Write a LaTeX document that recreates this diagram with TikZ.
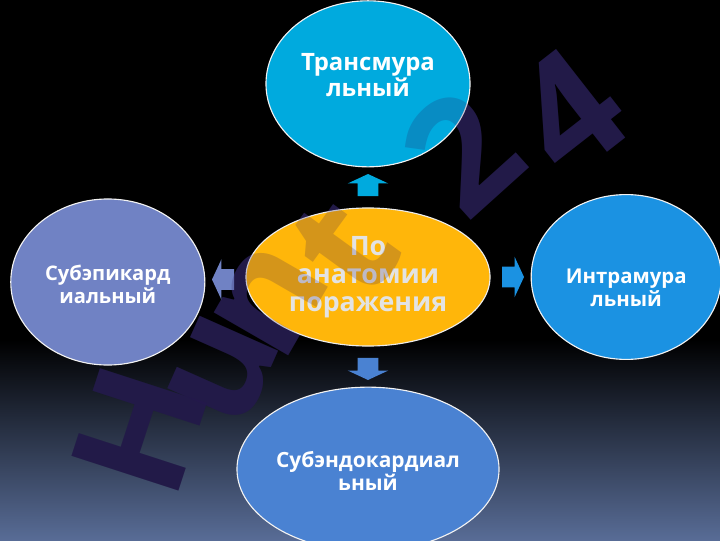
\documentclass[tikz,border=0pt]{standalone}
\usepackage{fontspec}
\setmainfont{Open Sans}
\usetikzlibrary{positioning}
\usetikzlibrary{shapes.geometric}
\usetikzlibrary{shapes.arrows}
\usetikzlibrary{calc}

\definecolor{goldc}{RGB}{255,182,10}
\definecolor{transc}{RGB}{0,170,222}
\definecolor{epic}{RGB}{112,130,196}
\definecolor{intrac}{RGB}{27,146,226}
\definecolor{endoc}{RGB}{74,130,210}
\definecolor{floorc}{RGB}{88,108,150}
\definecolor{wmc}{RGB}{33,28,68}
\definecolor{wmtint}{RGB}{40,20,90}

\begin{document}
\begin{tikzpicture}[
    x=0.025cm, y=0.025cm,
    node distance=1cm,
    hub/.style={ellipse, draw=white!85!gray, line width=0.8pt, fill=goldc, minimum width=6.1cm, minimum height=3.45cm, inner sep=0pt, align=center, text=white!78!gray, font=\bfseries\fontsize{19}{20}\selectfont},
    leaf/.style={ellipse, draw=white!90!gray, line width=0.8pt, inner sep=0pt},
    caption/.style={align=center, text=white, inner sep=0pt, font=\bfseries\fontsize{#1}{16.5}\selectfont},
    caption/.default=15,
    pointer/.style={single arrow, minimum height=0.55cm, inner xsep=0pt, inner ysep=0.25cm, single arrow head extend=0.25cm, single arrow tip angle=130},
    wmletter/.style={inner sep=0pt, font=\bfseries\fontsize{112}{112}\selectfont}
    ]
    \fill[black] (0,0) rectangle (720,540);
    \shade[top color=black, bottom color=floorc] (0,0) rectangle (720,200);
    \useasboundingbox (0,0) rectangle (720,540);

    % watermark, dark part on the background
    \foreach \ch/\x/\y/\r in {H/140/110/72, u/224/170/66, n/270/240/60, t/345/292/54, 2/462/388/42, 4/568/428/38}
      \node (wm\ch) [wmletter, text=wmc, rotate=\r] at (\x,\y) {\ch};

    % centre and the four kinds
    \node (hub) [hub] at (368,263) {По\\анатомии\\поражения};
    \node (trans) [leaf, fill=transc, minimum width=5.1cm, minimum height=4.15cm, above=of hub,
      label={[caption=17, name=transtxt, yshift=0.22cm]center:Трансмура\\льный}] {};
    \node (epi) [leaf, fill=epic, minimum width=4.85cm, minimum height=4.15cm, left=of hub, yshift=-0.125cm,
      label={[caption=14.3, name=epitxt, yshift=-0.05cm]center:Субэпикард\\иальный}] {};
    \node (intra) [leaf, fill=intrac, minimum width=4.75cm, minimum height=4.12cm, right=of hub,
      label={[caption=14.5, name=intratxt, yshift=-0.27cm]center:Интрамура\\льный}] {};
    \node (endo) [leaf, fill=endoc, minimum width=6.55cm, minimum height=4.1cm, below=of hub,
      label={[caption=14.9, name=endotxt, yshift=-0.05cm]center:Субэндокардиал\\ьный}] {};

    % block arrows between them
    \node (up) [pointer, fill=transc, rotate=90] at ($(hub.north)!0.5!(trans.south)$) {};
    \node (lt) [pointer, fill=epic, rotate=180] at ($(hub.west)!0.5!(epi.east)$) {};
    \node (rt) [pointer, fill=intrac] at ($(hub.east)!0.5!(intra.west)$) {};
    \node (dn) [pointer, fill=endoc, rotate=270] at ($(hub.south)!0.5!(endo.north)$) {};

    % watermark, tint over the shapes
    \foreach \ch/\x/\y/\r in {H/140/110/72, u/224/170/66, n/270/240/60, t/345/292/54, 2/462/388/42, 4/568/428/38}
      \node (wmt\ch) [wmletter, text=wmtint, opacity=0.2, rotate=\r] at (\x,\y) {\ch};
\end{tikzpicture}
\end{document}
